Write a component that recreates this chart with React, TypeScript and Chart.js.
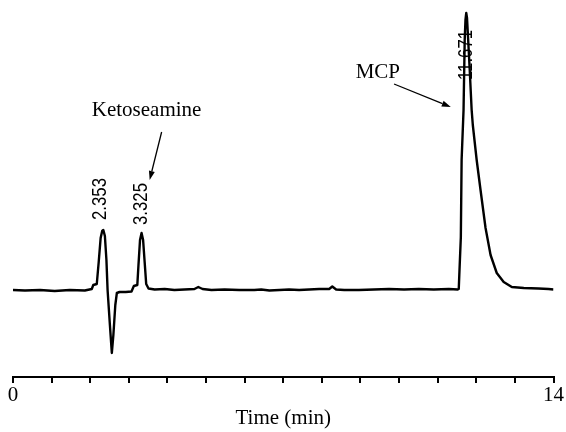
import React, { useEffect, useRef } from "react";
import { Chart, registerables } from "chart.js";

Chart.register(...registerables);

// Retention time (min)
const times: number[] = [
  0, 0.31, 0.7, 1.08, 1.47, 1.86, 2.04, 2.08, 2.17, 2.22, 2.27, 2.31, 2.34, 2.38, 2.42, 2.45,
  2.51, 2.56, 2.6, 2.65, 2.69, 2.76, 2.92, 3.07, 3.13, 3.22, 3.25, 3.29, 3.33, 3.37, 3.41, 3.45,
  3.51, 3.67, 3.93, 4.18, 4.44, 4.7, 4.8, 4.91, 5.14, 5.48, 5.86, 6.25, 6.43, 6.64, 6.9, 7.15,
  7.41, 7.67, 7.93, 8.19, 8.27, 8.37, 8.58, 8.96, 9.35, 9.74, 10.13, 10.51, 10.9, 11.29, 11.52,
  11.546, 11.56, 11.6, 11.62, 11.67, 11.7, 11.72, 11.74, 11.76, 11.79, 11.83, 11.88, 11.91,
  12.01, 12.11, 12.24, 12.37, 12.53, 12.71, 12.92, 13.23, 13.61, 13.87, 14.0,
];

// Detector signal (arbitrary units)
const signal: number[] = [
  0, -0.5, 0, -1, 0, -0.5, 1, 5, 6, 28, 52, 59, 60, 54, 30, 0,
  -35, -63, -45, -15, -3, -2, -2, -1.5, 4, 5, 25, 50, 57, 50, 28, 6,
  1.5, 0.5, 1, 0, 0.5, 1, 3, 1, 0, 0.5, 0, 0, 0.5, -0.5, 0, 0.5,
  0, 0.5, 1, 1, 3.5, 0.5, 0, 0, 0.5, 1, 0.5, 1, 0.5, 1, 0.5,
  1, 15, 53, 130, 180, 250, 270, 277, 272, 250, 220, 180, 165,
  130, 100, 62, 35, 17, 8, 3, 2, 1.5, 1, 0.5,
];

// Peak retention-time labels
const peakLabels: string[] = ["2.353", "3.325", "11.671"];
const peakLabelTimes: number[] = [2.27, 3.31, 11.75];
const peakLabelValues: number[] = [70, 65, 210];

// Compound annotations
const compoundNames: string[] = ["Ketoseamine", "MCP"];
const compoundTextTimes: number[] = [3.46, 9.45];
const compoundTextValues: number[] = [180, 218];
const arrowFromTimes: number[] = [3.85, 9.87];
const arrowFromValues: number[] = [158, 206];
const arrowToTimes: number[] = [3.54, 11.34];
const arrowToValues: number[] = [110, 183];

const xTickLabels: number[] = [0, 14];

const SERIF = '"Liberation Serif", "Times New Roman", serif';
const SANS = '"Liberation Sans", Arial, sans-serif';

const annotationPlugin = {
  id: "chromAnnotations",
  afterDatasetsDraw(chart: any) {
    const { ctx } = chart;
    const xs = chart.scales.x;
    const ys = chart.scales.y;
    ctx.save();
    ctx.fillStyle = "#000";
    ctx.strokeStyle = "#000";

    // peak labels (rotated)
    peakLabels.forEach((lab, i) => {
      const px = xs.getPixelForValue(peakLabelTimes[i]);
      const py = ys.getPixelForValue(peakLabelValues[i]);
      ctx.save();
      ctx.translate(px, py);
      ctx.rotate(-Math.PI / 2);
      ctx.scale(0.8, 1);
      ctx.font = `21px ${SANS}`;
      ctx.textAlign = "left";
      ctx.textBaseline = "middle";
      ctx.fillText(lab, 0, 0);
      ctx.restore();
    });

    // compound names
    compoundNames.forEach((name, i) => {
      const px = xs.getPixelForValue(compoundTextTimes[i]);
      const py = ys.getPixelForValue(compoundTextValues[i]);
      ctx.font = `21px ${SERIF}`;
      ctx.textAlign = "center";
      ctx.textBaseline = "middle";
      ctx.fillText(name, px, py);
    });

    // arrows
    arrowFromTimes.forEach((_, i) => {
      const x1 = xs.getPixelForValue(arrowFromTimes[i]);
      const y1 = ys.getPixelForValue(arrowFromValues[i]);
      const x2 = xs.getPixelForValue(arrowToTimes[i]);
      const y2 = ys.getPixelForValue(arrowToValues[i]);
      const ang = Math.atan2(y2 - y1, x2 - x1);
      const headLen = 9;
      const headW = 3;
      const bx = x2 - headLen * Math.cos(ang);
      const by = y2 - headLen * Math.sin(ang);
      ctx.lineWidth = 1.3;
      ctx.beginPath();
      ctx.moveTo(x1, y1);
      ctx.lineTo(bx, by);
      ctx.stroke();
      ctx.beginPath();
      ctx.moveTo(x2, y2);
      ctx.lineTo(bx + headW * Math.sin(ang), by - headW * Math.cos(ang));
      ctx.lineTo(bx - headW * Math.sin(ang), by + headW * Math.cos(ang));
      ctx.closePath();
      ctx.fill();
    });
    ctx.restore();
  },
};

export default function App() {
  const canvasRef = useRef<HTMLCanvasElement | null>(null);

  useEffect(() => {
    document.body.style.margin = "0";
    const canvas = canvasRef.current;
    if (!canvas) return;
    const chart = new Chart(canvas, {
      type: "line",
      data: {
        datasets: [
          {
            data: times.map((t, i) => ({ x: t, y: signal[i] })),
            borderColor: "#000",
            borderWidth: 2.4,
            borderJoinStyle: "round",
            pointRadius: 0,
            tension: 0,
            fill: false,
          },
        ],
      },
      options: {
        animation: false,
        responsive: true,
        maintainAspectRatio: false,
        layout: { padding: { left: 13, right: 11, top: 8, bottom: 3 } },
        plugins: {
          legend: { display: false },
          tooltip: { enabled: false },
        },
        scales: {
          x: {
            type: "linear",
            min: 0,
            max: 14,
            ticks: {
              stepSize: 1,
              autoSkip: false,
              maxRotation: 0,
              color: "#000",
              padding: 2,
              font: { family: SERIF, size: 21, lineHeight: 1 },
              callback: (v: any) => (xTickLabels.includes(Number(v)) ? String(v) : ""),
            },
            grid: {
              drawOnChartArea: false,
              drawTicks: true,
              tickLength: 6,
              color: "#000",
              lineWidth: 2,
            },
            border: { display: true, color: "#000", width: 2 },
            title: {
              display: true,
              text: "Time (min)",
              color: "#000",
              font: { family: SERIF, size: 21, lineHeight: 1 },
              padding: { top: 0, bottom: 0 },
            },
          },
          y: {
            type: "linear",
            display: false,
            min: -87,
            max: 282,
          },
        },
      },
      plugins: [annotationPlugin],
    });
    return () => chart.destroy();
  }, []);

  return (
    <div style={{ width: 566, height: 432, position: "relative" }}>
      <canvas ref={canvasRef} />
    </div>
  );
}
